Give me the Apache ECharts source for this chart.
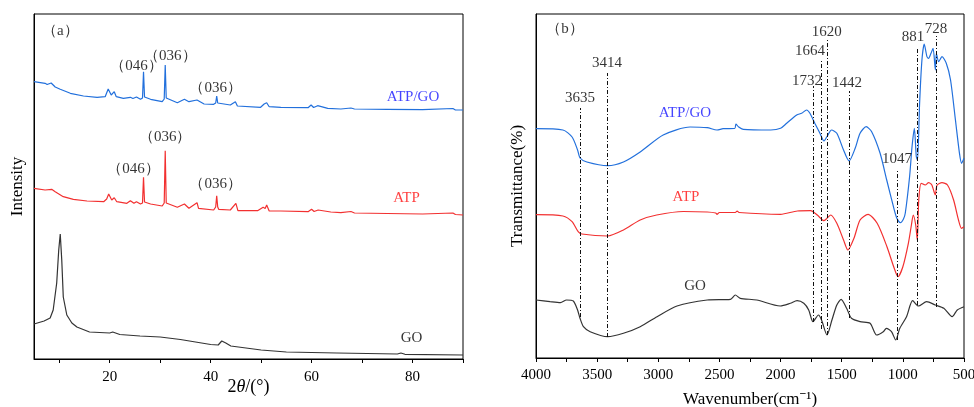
<!DOCTYPE html>
<html>
<head>
<meta charset="utf-8">
<script src="https://cdn.jsdelivr.net/npm/echarts@6/dist/echarts.min.js"></script>
<style>
  html, body { margin: 0; padding: 0; background: #fff; }
  #chart { width: 974px; height: 407px; }
</style>
</head>
<body>
<div id="chart"></div>
<script>
// ---- XRD patterns, 2θ (°) vs. intensity (a.u., curves stacked with offsets) ----
const xrdATPGO = [
  [5, 277.3], [7.2, 275.7], [7.6, 274.5], [8.4, 276], [9.2, 272], [10.2, 269.7], [12.2, 265.7],
  [14.8, 263], [17.5, 261.7], [19.1, 262.3], [19.7, 270], [20.3, 264], [20.9, 267.3], [21.3, 262.3],
  [22.7, 260.7], [24.1, 261.7], [24.6, 260.5], [25.3, 262], [26.1, 259.7], [26.5, 261], [26.7, 287.3],
  [26.9, 262], [27.1, 261.3], [28.1, 259.7], [30.4, 257.3], [30.8, 260], [31, 294], [31.2, 261],
  [31.4, 259], [33.4, 256.3], [34.8, 259.7], [35.7, 257.3], [37.3, 259], [38.7, 255], [40.6, 254.7],
  [41.0, 256], [41.2, 263], [41.4, 256], [41.6, 255], [43.9, 254], [44.9, 257.3], [45.3, 253], [49.9, 251.7],
  [50.6, 255], [51.1, 256.3], [51.6, 252.3], [53.9, 251.7], [59.3, 251.3], [59.9, 254], [60.4, 251.5],
  [61.2, 253.3], [63.2, 250.7], [65.8, 250], [67.8, 251], [68.5, 250], [75, 249.7], [82, 249.4],
  [88, 250.5], [88.5, 249], [90, 249]
];
const xrdATP = [
  [5, 170.7], [7.2, 169], [8.5, 169.7], [9.2, 167.3], [10.8, 162.3], [12.8, 159.7], [15.5, 158],
  [18.8, 157.3], [19.4, 160], [19.8, 165], [20.4, 159], [20.9, 161.3], [21.4, 157.3], [23.4, 155.7],
  [24.1, 158.3], [24.8, 155.7], [25.3, 157.3], [26.1, 155], [26.5, 156], [26.7, 181.7], [26.9, 157],
  [28.1, 155], [30.4, 153], [30.8, 156], [31, 208.3], [31.2, 156], [31.4, 154], [33.4, 151.7],
  [34.8, 155], [35.7, 150.7], [37.3, 156.3], [37.6, 150.7], [40.6, 149], [41.0, 152], [41.2, 163.3],
  [41.4, 152], [41.6, 149.7], [43.9, 149], [45, 155.7], [45.4, 148.3], [49.3, 148.3], [50.4, 151.7],
  [50.8, 150.5], [51.1, 154], [51.6, 148], [53.9, 148], [59.3, 147.3], [60, 149.7], [60.5, 147.5],
  [61.3, 149], [63.8, 147], [65.8, 146.3], [67.8, 147.5], [68.5, 146], [75, 145.5], [82, 145],
  [88, 146], [88.5, 144.5], [90, 144]
];
const xrdGO = [
  [5, 35], [7, 38], [8.2, 41], [8.8, 49], [9.5, 76], [9.9, 109], [10.2, 125], [10.5, 99], [10.8, 62],
  [11.5, 44], [12.5, 36], [13.5, 32], [16, 27], [20, 26], [20.6, 27], [22, 24.5], [26, 23], [30, 22],
  [34, 19.5], [37, 17], [40, 14.5], [41.5, 14], [42.2, 18], [42.5, 19], [43, 16], [44, 13], [47, 11],
  [50, 9], [55, 7], [65, 6], [77, 5], [77.7, 6], [78.5, 4.7], [90, 4]
];
const xrdTickValues = [10, 20, 30, 40, 50, 60, 70, 80, 90];
const xrdLabelValues = [20, 40, 60, 80];

// reflection / sample annotations: [text, 2θ, height]
const xrdNotesATPGO = [['（046）', 25.3, 293], ['（036）', 32, 303], ['（036）', 41, 271]];
const xrdNotesATP = [['（046）', 24.7, 190], ['（036）', 31, 222], ['（036）', 41, 175]];
const xrdSampleNames = [['ATP/GO', 80.1, 262], ['ATP', 78.8, 161], ['GO', 79.8, 21]];

// ---- FTIR spectra, wavenumber (cm-1) vs. transmittance (offset) ----
const ftirATPGO = [
  [4000, 229.3], [3780, 228], [3705, 221], [3660, 208], [3640, 200], [3584, 196], [3414, 192.3],
  [3285, 196], [3148, 206], [2960, 223], [2740, 231], [2600, 230.3], [2520, 228], [2470, 229.3],
  [2375, 229.5], [2365, 234], [2345, 231.3], [2305, 228.7], [2080, 228], [2000, 229.7], [1950, 234.7],
  [1868, 243], [1828, 244.7], [1787, 248], [1760, 244.7], [1720, 234.7], [1678, 224.7], [1645, 217],
  [1618, 222], [1583, 228], [1540, 224.7], [1485, 208], [1440, 197], [1390, 209.7], [1350, 224.7],
  [1300, 231.3], [1255, 226.3], [1186, 204.7], [1132, 178], [1077, 151.3], [1050, 140], [1020, 135.3],
  [995, 139], [980, 145], [945, 181.3], [925, 211.3], [906, 229.7], [890, 201.3], [880, 198],
  [863, 254.7], [844, 298], [825, 314], [803, 301.3], [790, 299.7], [770, 304.7], [753, 309.7],
  [734, 288], [726, 304.7], [707, 296.3], [680, 301.3], [645, 294.7], [610, 278], [570, 238],
  [537, 204.7], [520, 194.7], [500, 199.7]
];
const ftirATP = [
  [4000, 143.3], [3780, 142], [3705, 136.3], [3655, 126.3], [3625, 124], [3414, 122], [3285, 128],
  [3148, 138], [3013, 143], [2795, 146.5], [2600, 146], [2530, 145], [2520, 143.7], [2500, 145.5],
  [2370, 145.5], [2355, 147], [2340, 145.5], [2000, 143.7], [1863, 147], [1755, 147.3], [1700, 143],
  [1645, 137.3], [1590, 143], [1540, 134.7], [1485, 118], [1450, 108], [1400, 119.7], [1350, 138],
  [1285, 143.7], [1210, 134.7], [1130, 111.3], [1075, 91.3], [1040, 81.3], [1000, 91.3], [955, 114.7],
  [930, 133], [915, 143], [895, 133], [882, 118], [870, 158], [850, 174.7], [817, 173], [790, 175.3],
  [763, 173], [735, 163], [720, 173], [680, 175.3], [635, 173], [585, 158], [545, 138], [520, 129.7],
  [500, 131.3]
];
const ftirGO = [
  [4000, 58], [3885, 56.3], [3800, 55.3], [3750, 58], [3695, 57], [3660, 48], [3640, 39.7],
  [3612, 31.3], [3557, 26.3], [3414, 21.3], [3285, 24.7], [3148, 31.3], [3010, 41.3], [2847, 52],
  [2600, 58], [2410, 58.7], [2370, 63], [2330, 59.7], [2195, 58], [2003, 52], [1920, 54.7],
  [1865, 57.3], [1810, 54.7], [1770, 48], [1735, 36.3], [1690, 43], [1665, 38], [1620, 23],
  [1580, 38], [1540, 53], [1505, 58.7], [1460, 49.7], [1420, 39.7], [1350, 36.3], [1268, 34.7],
  [1215, 23], [1160, 26.3], [1135, 29.7], [1093, 26.3], [1058, 18], [1025, 29.7], [970, 41.3],
  [920, 57.3], [873, 52], [805, 56.3], [735, 53], [665, 49.7], [597, 41.3], [555, 48], [500, 51.3]
];
const ftirTickValues = [4000, 3750, 3500, 3250, 3000, 2750, 2500, 2250, 2000, 1750, 1500, 1250, 1000, 750, 500];
const ftirLabelValues = [4000, 3500, 3000, 2500, 2000, 1500, 1000, 500];

// absorption bands: wavenumber, guide-line top and bottom, label position
const bandWavenumbers = [3635, 3414, 1732, 1664, 1620, 1442, 1047, 881, 728];
const bandLineTop = [250, 285, 272, 298, 319, 267, 188, 311, 322];
const bandLineBottom = [41, 21, 36, 29, 23, 40, 18, 53, 51];
const bandLabelX = [3640, 3420, 1784, 1760, 1623, 1457, 1048, 917, 729];
const bandLabelY = [260, 295, 277, 307, 326, 275, 199, 321, 329];
const ftirSampleNames = [['ATP/GO', 2782, 245], ['ATP', 2774, 161], ['GO', 2700, 72]];

const SERIF = "'Times New Roman', 'Liberation Serif', 'Noto Serif', serif";
const BLUE = '#2270dc', RED = '#f23030', GREY = '#333333';
const LABEL_COLORS = { 'ATP/GO': '#1515ff', 'ATP': '#ff1010', 'GO': '#000' };

function textSeries(xi, items, fontSize) {
  return {
    type: 'scatter', xAxisIndex: xi, yAxisIndex: xi, silent: true, symbolSize: 0, z: 5,
    data: items.map(function (it) {
      return {
        value: [it[1], it[2]], name: it[0],
        label: { color: it[3] || '#000' }
      };
    }),
    label: {
      show: true, position: 'inside', fontFamily: SERIF, fontSize: fontSize,
      formatter: function (p) { return p.name; }
    }
  };
}

function curve(xi, data, color, smooth) {
  return {
    type: 'line', xAxisIndex: xi, yAxisIndex: xi, data: data, showSymbol: false,
    smooth: smooth, silent: true, lineStyle: { color: color, width: 1.2 }
  };
}

const bandLines = bandWavenumbers.map(function (w, i) {
  return [{ coord: [w, bandLineBottom[i]] }, { coord: [w, bandLineTop[i]] }];
});
const bandLabels = bandWavenumbers.map(function (w, i) {
  return [String(w), bandLabelX[i], bandLabelY[i]];
});
const plain = function (v) { return String(v); };

const axisCommon = {
  axisLine: { show: true, lineStyle: { color: '#000', width: 1 } },
  splitLine: { show: false },
  nameMoveOverlap: false,
  nameTextStyle: { fontFamily: SERIF, color: '#000' }
};

const option = {
  animation: false,
  backgroundColor: '#fff',
  grid: [
    { left: 34, top: 14, width: 429, height: 345, outerBoundsMode: 'none', containLabel: false,
      show: true, borderColor: '#000', borderWidth: 1 },
    { left: 536, top: 14, width: 428, height: 344, outerBoundsMode: 'none', containLabel: false,
      show: true, borderColor: '#000', borderWidth: 1 }
  ],
  xAxis: [
    Object.assign({}, axisCommon, {
      gridIndex: 0, type: 'value', min: 5, max: 90,
      axisTick: { show: true, length: 4, customValues: xrdTickValues, lineStyle: { color: '#000' } },
      axisLabel: { customValues: xrdLabelValues, formatter: plain, fontFamily: SERIF, fontSize: 15, color: '#000', margin: 11 },
      name: '{n|2}{i|θ}{n|/(°)}', nameLocation: 'middle', nameGap: 19,
      nameTextStyle: {
        rich: {
          n: { fontFamily: SERIF, fontSize: 18, color: '#000' },
          i: { fontFamily: SERIF, fontSize: 18, fontStyle: 'italic', color: '#000' }
        }
      }
    }),
    Object.assign({}, axisCommon, {
      gridIndex: 1, type: 'value', min: 500, max: 4000, inverse: true,
      axisTick: { show: true, length: 4, customValues: ftirTickValues, lineStyle: { color: '#000' } },
      axisLabel: { customValues: ftirLabelValues, formatter: plain, fontFamily: SERIF, fontSize: 15, color: '#000', margin: 10 },
      name: 'Wavenumber(cm⁻¹)', nameLocation: 'middle', nameGap: 33,
      nameTextStyle: { fontFamily: SERIF, fontSize: 17, color: '#000' }
    })
  ],
  yAxis: [
    Object.assign({}, axisCommon, {
      gridIndex: 0, type: 'value', min: 0, max: 345,
      axisTick: { show: false }, axisLabel: { show: false },
      name: 'Intensity', nameLocation: 'middle', nameGap: 8, nameRotate: 90,
      nameTextStyle: { fontFamily: SERIF, fontSize: 17, color: '#000' }
    }),
    Object.assign({}, axisCommon, {
      gridIndex: 1, type: 'value', min: 0, max: 344,
      axisTick: { show: false }, axisLabel: { show: false },
      name: 'Transmittance(%)', nameLocation: 'middle', nameGap: 10, nameRotate: 90,
      nameTextStyle: { fontFamily: SERIF, fontSize: 17, color: '#000' }
    })
  ],
  series: [
    curve(0, xrdATPGO, BLUE, false),
    curve(0, xrdATP, RED, false),
    curve(0, xrdGO, GREY, false),
    curve(1, ftirATPGO, BLUE, 0.25),
    curve(1, ftirATP, RED, 0.25),
    Object.assign(curve(1, ftirGO, GREY, 0.25), {
      markLine: {
        silent: true, symbol: ['none', 'none'], animation: false,
        label: { show: false },
        lineStyle: { color: '#111', width: 1, type: [4, 2, 1, 2] },
        data: bandLines
      }
    }),
    textSeries(0, [['（a）', 10.2, 328]]
      .concat(xrdNotesATPGO).concat(xrdNotesATP)
      .concat(xrdSampleNames.map(function (s) { return [s[0], s[1], s[2], LABEL_COLORS[s[0]]]; })), 15),
    textSeries(1, [['（b）', 3763, 329]]
      .concat(bandLabels)
      .concat(ftirSampleNames.map(function (s) { return [s[0], s[1], s[2], LABEL_COLORS[s[0]]]; })), 15)
  ]
};

const chart = echarts.init(document.getElementById('chart'), null, { renderer: 'canvas' });
chart.setOption(option);
</script>
</body>
</html>
